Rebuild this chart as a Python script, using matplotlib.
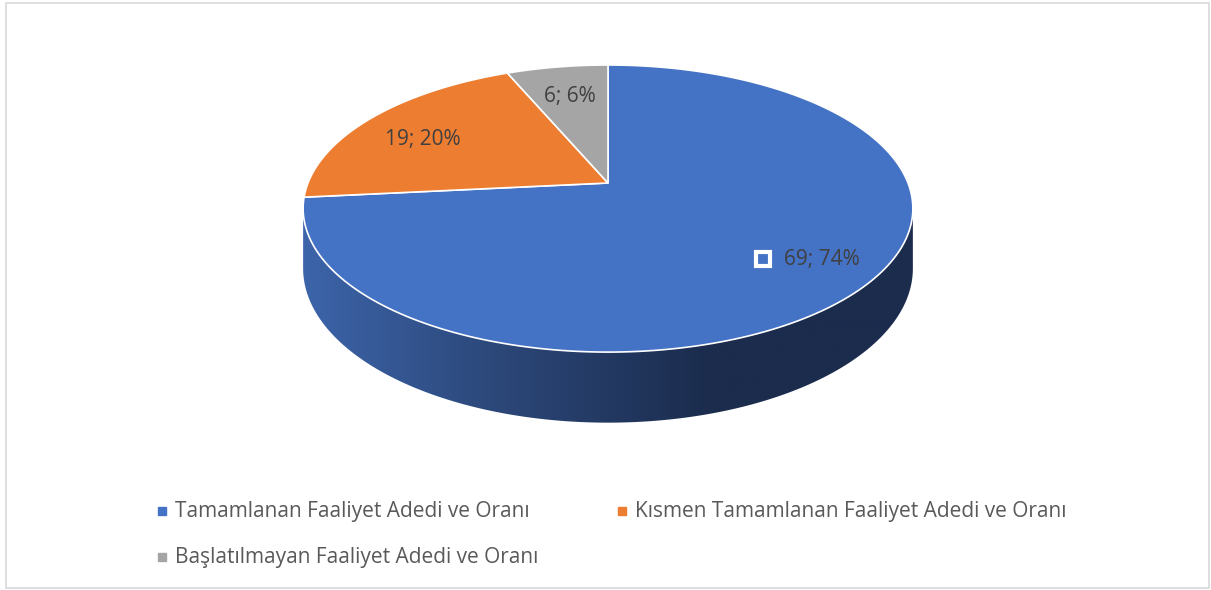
import numpy as np
import matplotlib.pyplot as plt
from matplotlib.patches import Polygon, Rectangle
from matplotlib.colors import LinearSegmentedColormap

plt.rcParams['font.family'] = ['Open Sans', 'DejaVu Sans']

# data
labels = ['Tamamlanan Faaliyet Adedi ve Oranı',
          'Kısmen Tamamlanan Faaliyet Adedi ve Oranı',
          'Başlatılmayan Faaliyet Adedi ve Oranı']
values = [69, 19, 6]
percents = [74, 20, 6]
colors = ['#4472C4', '#ED7D31', '#A5A5A5']

W, H = 1211, 590
fig = plt.figure(figsize=(W / 100, H / 100), dpi=100)
ax = fig.add_axes([0, 0, 1, 1])
ax.set_xlim(0, W)
ax.set_ylim(H, 0)
ax.axis('off')

# pie geometry in pixels (simple perspective)
cx, cy = 608, 183
a, b = 300, 139
k = 0.178
depth = 58


def proj(theta, r=1.0, z=0.0):
    # theta in degrees, clockwise from 12 o'clock
    t = np.radians(theta)
    s = 1.0 / (1.0 + k * np.cos(t) * r)
    x = cx + a * r * np.sin(t) * s
    y = cy - b * r * np.cos(t) * s + z * s
    return x, y


total = sum(values)
bounds = np.concatenate([[0], np.cumsum(values) / total * 360])

# side wall (front half only)
ts = np.degrees(np.arccos(-k))
for i in range(len(values)):
    lo, hi = max(bounds[i], ts), min(bounds[i + 1], 360 - ts)
    if hi <= lo:
        continue
    if i == 0:
        cmap = LinearSegmentedColormap.from_list(
            'wall', ['#1b2c4d', '#1b2c4d', '#2b4677', '#3d65ab'])
    else:
        cmap = LinearSegmentedColormap.from_list('wall', [colors[i], colors[i]])
    th = np.linspace(lo, hi, 200)
    x1, y1 = proj(th)
    x2, y2 = proj(th, z=depth)
    poly = Polygon(np.column_stack([np.concatenate([x1, x2[::-1]]),
                                    np.concatenate([y1, y2[::-1]])]),
                   closed=True, facecolor='none', edgecolor='none')
    ax.add_patch(poly)
    grad = np.linspace(1, 0, 256).reshape(1, -1)
    im = ax.imshow(grad, cmap=cmap, aspect='auto',
                   extent=[cx - a - 10, cx + a + 10, 460, cy - 10],
                   zorder=1)
    im.set_clip_path(poly)

# top face
for i in range(len(values)):
    th = np.linspace(bounds[i], bounds[i + 1], 200)
    x, y = proj(th)
    pts = np.column_stack([np.concatenate([[cx], x]), np.concatenate([[cy], y])])
    ax.add_patch(Polygon(pts, closed=True, facecolor=colors[i],
                         edgecolor='white', linewidth=1.2, zorder=2))

# data labels
for i in range(len(values)):
    mid = (bounds[i] + bounds[i + 1]) / 2
    lx, ly = proj(mid, r=0.78)
    txt = f'{values[i]}; {percents[i]}%'
    if i == 0:
        ax.text(lx + 23, ly - 4, txt, fontsize=15, color='#404040',
                ha='center', va='center', zorder=4)
        ax.plot(lx - 36, ly - 4, marker='s', markersize=10.5, color=colors[i],
                markeredgecolor='white', markeredgewidth=3, zorder=4)
    else:
        ax.text(lx + 3, ly + (8 if i == 1 else 7), txt, fontsize=15,
                color='#404040', ha='center', va='center', zorder=4)

# legend
leg_pos = [(162, 511), (622, 511), (162, 557)]
for (lx, ly), lab, col in zip(leg_pos, labels, colors):
    ax.plot(lx, ly, marker='s', markersize=6, color=col, zorder=4)
    ax.text(lx + 13, ly, lab, fontsize=15, color='#595959',
            ha='left', va='center', zorder=4)

# chart border
ax.add_patch(Rectangle((6, 3), 1203, 585, facecolor='none',
                       edgecolor='#d9d9d9', linewidth=1.2, zorder=5))

fig.savefig('out.png', dpi=100)
